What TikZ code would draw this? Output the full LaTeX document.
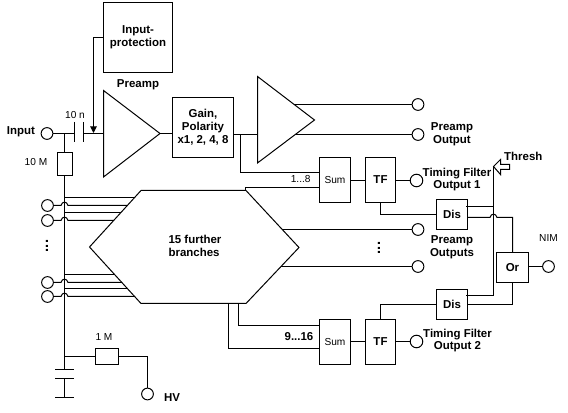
\documentclass[tikz,border=0pt]{standalone}
\usepackage{fontspec}
\setmainfont{Liberation Sans}
\usepackage{xcolor}
\usetikzlibrary{arrows.meta,positioning}
\tikzset{
  wire/.style={black,line width=0.75pt},
  blockbox/.style={draw,wire,minimum width=#1,inner sep=0pt},
  port/.style={draw,wire,circle,inner sep=0pt,minimum size=8.8pt},
  boldlab/.style={align=center,inner sep=0pt,font=\fontsize{8.6}{9.6}\selectfont\bfseries},
  thinlab/.style={align=center,inner sep=0pt,font=\fontsize{7.6}{9}\selectfont},
  dotslab/.style={rotate=90,inner sep=0pt,font=\fontsize{11}{11}\selectfont\bfseries},
}
\begin{document}
\begin{tikzpicture}[x=0.75pt,y=-0.75pt,wire]
  \useasboundingbox (0,0) rectangle (568,413);

  % blocks
  \node[blockbox=51.75pt,minimum height=52.5pt,boldlab] (inprot) at (138,37.5) {Input-\\protection};
  \node[blockbox=45.75pt,minimum height=45pt,boldlab] (gain) at (203,127.5) {Gain,\\Polarity\\x1, 2, 4, 8};
  % rows: {name}/{y}/{y of output}
  \foreach \n/\y/\o in {A/180/180.5, B/342/341.5}{
    \node[blockbox=23.25pt,minimum height=33.75pt,thinlab] (sum\n) at (335,\y) {Sum};
    \node[blockbox=22.5pt,minimum height=33.75pt,boldlab] (tf\n) at (380.5,\y) {TF};
    \node[port,minimum size=9.4pt] (tfout\n) at (416.5,\o) {};
    \draw (sum\n.east |- tfout\n) -- (tf\n.west |- tfout\n);
    \draw (tf\n.east |- tfout\n) -- (tfout\n);
  }
  \node[blockbox=23.25pt,minimum height=22.5pt,boldlab] (disA) at (452,214.5) {Dis};
  \node[blockbox=23.25pt,minimum height=22.5pt,boldlab] (disB) at (452,304.5) {Dis};
  \node[blockbox=24pt,minimum height=22.5pt,boldlab] (orgate) at (512.5,267.5) {Or};
  \node[blockbox=11.25pt,minimum height=17.25pt] (rten) at (65,164) {};
  \node[blockbox=17.25pt,minimum height=12pt] (rone) at (107,356.5) {};

  % amplifiers and the hexagon
  \draw (103.5,90.5) -- (103.5,177) -- (160,133.5) coordinate (preOut) -- cycle;
  \draw (257.5,76.5) -- (257.5,163) -- (314.5,120) -- cycle;
  \draw (89.5,247) -- (141,190.5) -- (246,190.5) -- (299,247.5) -- (246,303.5) -- (141,303.5) -- cycle;

  % ports
  \node[port] (input) at (47,133.5) {};
  \node[port] (hv) at (147.5,394) {};
  \node[port] (nim) at (548.5,266.5) {};
  \foreach \n/\y in {preA/104.5, preB/134.5, preC/229.5, preD/266.5}
    \node[port] (\n) at (418,\y) {};

  % input stage
  \coordinate (capL) at (74.5,133.5);
  \coordinate (capR) at (83.5,133.5);
  \coordinate (tapIn) at (64.5,133.5);
  \coordinate (ampIn) at (103.5,133.5);
  \coordinate (protTip) at (93.5,133);
  \coordinate (rail) at (64.5,356.5);
  \coordinate (capT) at (64.5,369.5);
  \coordinate (capB) at (64.5,378.5);
  \coordinate (gnd) at (64.5,397.5);
  \draw (input) -- (capL);
  \draw (capR) -- (ampIn);
  \draw (74.5,122) -- (74.5,142);
  \draw (83.5,122) -- (83.5,142);
  \draw[-{Triangle[width=5pt,length=5pt]}] (inprot.west) -| (protTip);
  \draw (tapIn) -- (tapIn |- rten.north);
  \draw (tapIn |- rten.south) -- (rail);
  \draw (rail) -- (capT);
  \draw (capB) -- (gnd);
  \draw (55,369.5) -- (74,369.5);
  \draw (55,378.5) -- (74,378.5);
  \draw (55,397.5) -- (74,397.5);
  \draw (rail) -- (rone);
  \draw (rone) -| (hv);

  % amplifier chain
  \draw (preOut) -- (gain.west |- preOut);
  \draw (gain.east |- preB) -- (257.5,134.5);
  \draw (294,104.5) -- (preA);
  \draw (295,134.5) -- (preB);
  \draw (282,229.5) -- (preC);
  \draw (281,266.5) -- (preD);

  % rows: {y}/{hexagon edge}
  \foreach \y/\e in {197.5/134.6, 212.5/121, 274.5/114.6, 288.5/127.3}
    \draw (64.5,\y) -- (\e,\y);
  % rows with a jump over the rail: {name}/{y}/{hexagon edge}
  \foreach \n/\y/\e in {a/205.5/127.3, b/220.5/113.7, c/282.5/121.9, d/296.5/134.6}{
    \node[port] (hvin\n) at (47.5,\y) {};
    \draw (hvin\n) -- (61,\y) .. controls (62,\y-4.5) and (67,\y-4.5) .. (68,\y) -- (\e,\y);
  }

  % sums
  \coordinate (sumAa) at (319.5,172.5);
  \coordinate (sumAb) at (319.5,187.5);
  \coordinate (sumBa) at (319.5,325.5);
  \coordinate (sumBb) at (319.5,348.5);
  \draw (240.5,134.5) |- (sumAa);
  \draw (245.5,190.5) |- (sumAb);
  \draw (238.5,303.5) |- (sumBa);
  \draw (228.5,303.5) |- (sumBb);

  % discriminators and threshold
  \draw (tfA) |- (disA);
  \draw (tfB) |- (disB);
  \coordinate (threshTip) at (493.5,166.5);
  \coordinate (busA) at (493.5,206.5);
  \coordinate (busB) at (493.5,295.5);
  \draw (threshTip) -- (busB) -- (466,295.5);
  \draw (466,206.5) -- (busA);
  \draw (467.5,217.5) -- (490,217.5) .. controls (491,213) and (496,213) .. (497,217.5) -| (orgate);
  \draw (disB.east) -| (orgate);
  \draw (orgate.east |- nim) -- (nim);
  \draw (threshTip) -- (500.5,159.5) -- (500.5,164.5) -- (509.5,164.5) -- (509.5,169.5) -- (500.5,169.5) -- (500.5,174.5) -- cycle;

  % labels
  \node[boldlab] (lbpre) at (138,85) {Preamp};
  \node[boldlab] (lbin) at (21,132) {Input};
  \node[boldlab] (lbout) at (452,134) {Preamp\\Output};
  \node[boldlab] (lbouts) at (452,247.5) {Preamp\\Outputs};
  \node[boldlab] (lbtfa) at (457,179.5) {Timing Filter\\Output 1};
  \node[boldlab] (lbtfb) at (457.5,340.5) {Timing Filter\\Output 2};
  \node[boldlab] (lbthr) at (523.3,156.7) {Thresh};
  \node[boldlab] (lbhv) at (172,398) {HV};
  \node[boldlab,align=left] (lbhex) at (195,246) {15 further\\branches};
  \node[boldlab] (lbnine) at (299,336.7) {9...16};
  \node[thinlab] (lbone) at (300.7,179) {1...8};
  \node[thinlab] (lbcap) at (75,115) {10 n};
  \node[thinlab] (lbrten) at (36,162) {10 M};
  \node[thinlab] (lbrone) at (104,337) {1 M};
  \node[thinlab] (lbnim) at (548.5,238.5) {NIM};
  \node[dotslab] (dotsa) at (47,246) {...};
  \node[dotslab] (dotsb) at (379,248) {...};
\end{tikzpicture}
\end{document}
